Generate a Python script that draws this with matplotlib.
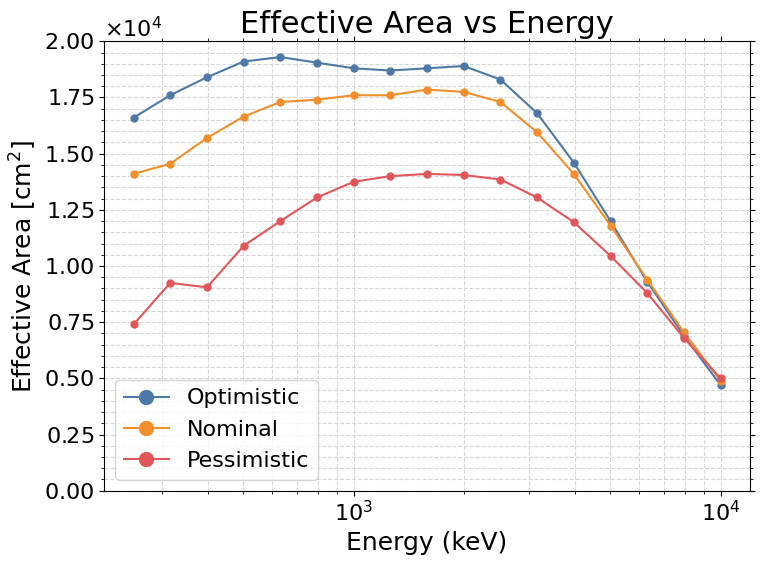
import numpy as np
import matplotlib
matplotlib.use("Agg")
import matplotlib.pyplot as plt
from matplotlib.ticker import ScalarFormatter, MultipleLocator

# ================= DATA =================
energy_kev = [251, 316, 398, 501, 631, 794, 1000, 1259, 1585, 1995,
              2512, 3162, 3981, 5012, 6310, 7943, 10000]

optimistic = [16600, 17600, 18400, 19100, 19300, 19050, 18800, 18700, 18800, 18900,
              18300, 16800, 14600, 12000, 9300, 6900, 4700]
nominal = [14100, 14550, 15700, 16650, 17300, 17400, 17600, 17600, 17850, 17750,
           17300, 15950, 14100, 11800, 9400, 7050, 4900]
pessimistic = [7400, 9250, 9050, 10900, 12000, 13050, 13750, 14000, 14100, 14050,
               13850, 13050, 11950, 10450, 8800, 6800, 5000]

series = [
    ("Optimistic", optimistic, "#4e79a7"),
    ("Nominal", nominal, "#f28e2b"),
    ("Pessimistic", pessimistic, "#e15759"),
]

# ================= PLOT =================
fig, ax = plt.subplots(figsize=(7.66, 5.66), dpi=100)

for name, vals, color in series:
    ax.plot(energy_kev, vals, marker="o", markersize=5, linewidth=1.5,
            color=color, label=name)

ax.set_xscale("log")
ax.set_ylim(0, 20000)
ax.yaxis.set_major_locator(MultipleLocator(2500))
ax.yaxis.set_minor_locator(MultipleLocator(500))

fmt = ScalarFormatter(useMathText=True)
fmt.set_scientific(True)
fmt.set_powerlimits((0, 0))
ax.yaxis.set_major_formatter(fmt)
ax.yaxis.get_offset_text().set_fontsize(16)

ax.set_xlabel("Energy (keV)", fontsize=18)
ax.set_ylabel("Effective Area [cm$^2$]", fontsize=18)
ax.set_title("Effective Area vs Energy", fontsize=22)

ax.tick_params(axis="both", which="major", labelsize=16)
ax.tick_params(which="both", top=True, right=True)

# same dashed look for major and minor grid
ax.grid(True, which="both", linestyle="--", color="#d6d6d6", linewidth=0.8)

ax.legend(fontsize=16, markerscale=2, loc="lower left")

fig.subplots_adjust(left=0.136, right=0.979, top=0.927, bottom=0.133)
fig.savefig("out.png", dpi=100)
